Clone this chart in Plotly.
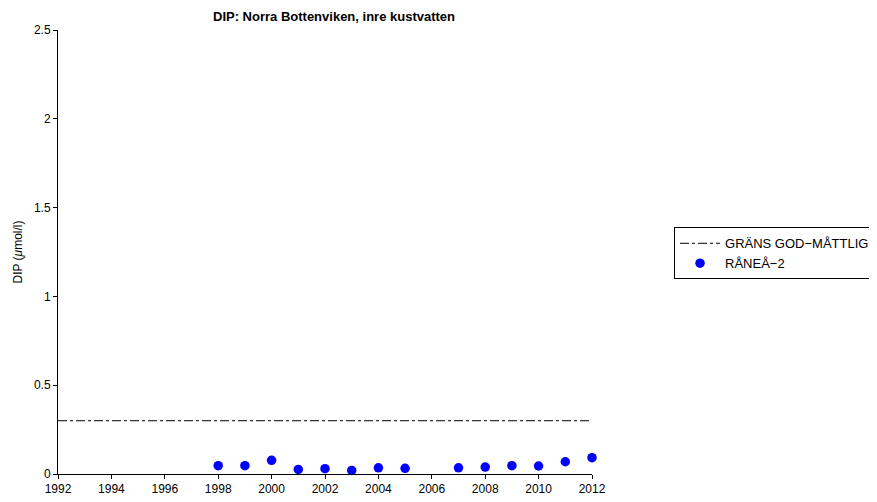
import plotly.graph_objects as go

years = [1998, 1999, 2000, 2001, 2002, 2003, 2004, 2005, 2007, 2008, 2009, 2010, 2011, 2012]
dip = [0.047, 0.047, 0.077, 0.026, 0.030, 0.020, 0.035, 0.032, 0.035, 0.039, 0.047, 0.045, 0.069, 0.092]
limit_x = [1992, 2012]
limit_y = [0.3, 0.3]
x_ticks = list(range(1992, 2013, 2))
y_ticks = [0, 0.5, 1, 1.5, 2, 2.5]
y_tick_labels = ["0", "0.5", "1", "1.5", "2", "2.5"]

# page body has an 8px default margin, so the figure is sized/offset accordingly
W, H = 869, 494

fig = go.Figure()
fig.add_trace(go.Scatter(x=limit_x, y=limit_y, mode="lines", name="GRÄNS GOD\u2212MÅTTLIG",
                         line=dict(color="black", width=1, dash="dashdot")))
fig.add_trace(go.Scatter(x=years, y=dip, mode="markers", name="RÅNEÅ\u22122",
                         marker=dict(color="#0000ff", size=9.5), cliponaxis=False))

fig.update_layout(
    width=W, height=H,
    margin=dict(l=50, r=285, t=22, b=28, autoexpand=False),
    paper_bgcolor="white", plot_bgcolor="white",
    font=dict(family="Liberation Sans, Arial, sans-serif", size=12, color="black"),
    title=dict(text="<b>DIP: Norra Bottenviken, inre kustvatten</b>", x=326/W, xanchor="center",
               y=1 - 8/H, yanchor="middle", font=dict(size=13)),
    showlegend=True,
    legend=dict(x=1.1536, xanchor="left", y=0.497, yanchor="middle", bordercolor="black", borderwidth=1,
                font=dict(size=13), itemwidth=40, tracegroupgap=0),
    xaxis=dict(range=[1992, 2012], tickvals=x_ticks, showgrid=False, zeroline=False, automargin=False,
               showline=True, linecolor="black", linewidth=1, ticks="outside", ticklen=4,
               tickcolor="black", mirror=False),
    yaxis=dict(range=[0, 2.5], tickvals=y_ticks, ticktext=y_tick_labels, showgrid=False, zeroline=False,
               automargin=False,
               showline=True, linecolor="black", linewidth=1, ticks="outside", ticklen=4,
               tickcolor="black", title=dict(text="DIP (<i>\u03bc</i>mol/l)", font=dict(size=12), standoff=8)),
)
fig.write_html("out.html")
